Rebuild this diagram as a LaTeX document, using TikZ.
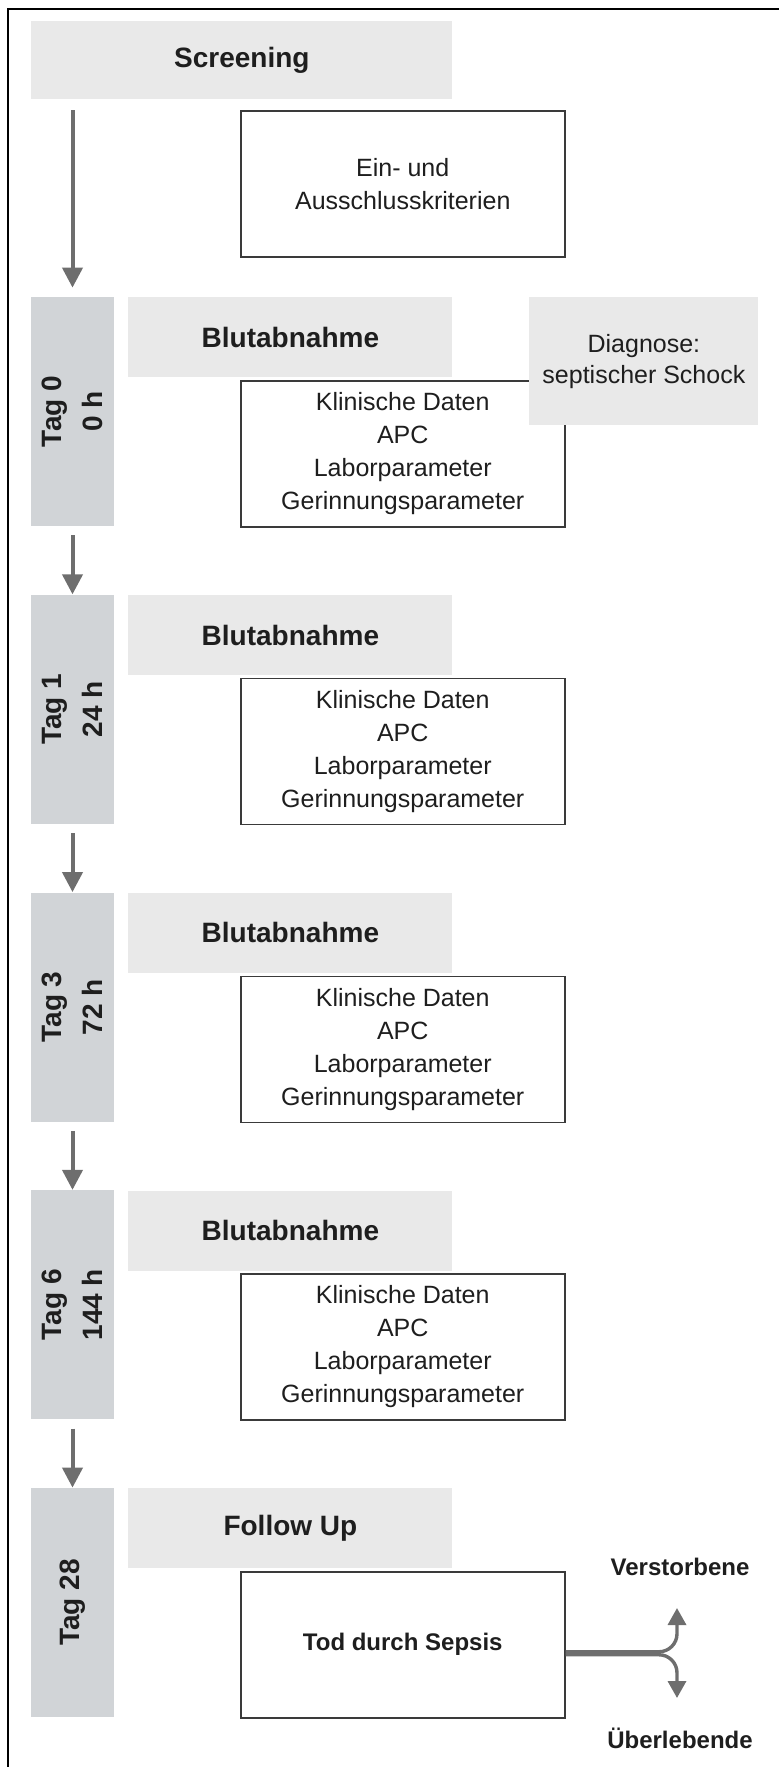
\documentclass[tikz,border=0pt]{standalone}
\usepackage{fontspec}
\setmainfont{Liberation Sans}
\usepackage{xcolor}
\usetikzlibrary{arrows.meta}
\definecolor{headgray}{HTML}{E9E9E9}
\definecolor{taggray}{HTML}{D1D4D7}
\definecolor{arrowgray}{HTML}{6E6E6E}
\definecolor{boxline}{HTML}{3A3A3A}
\definecolor{textgray}{HTML}{1E1E1E}

\begin{document}
\begin{tikzpicture}[x=0.5pt,y=-0.5pt,
  head/.style={fill=headgray,inner sep=0pt,anchor=north west,text=textgray,
    font=\fontsize{14}{17}\selectfont\bfseries},
  tagbox/.style={fill=taggray,inner sep=0pt,rotate=90,minimum width=114.5pt,
    minimum height=41.5pt,align=center,text=textgray,
    font=\fontsize{14}{20.5}\selectfont\bfseries},
  databox/.style={draw=boxline,line width=0.75pt,fill=white,inner sep=0pt,
    anchor=north west,minimum width=162pt,minimum height=73pt,align=center,
    text=textgray,font=\fontsize{12.5}{16.5}\selectfont},
  flow/.style={draw=arrowgray,line width=2pt,-{Triangle[length=10pt,width=10pt]}},
  fork/.style={draw=arrowgray,line width=1.7pt,rounded corners=9pt,
    -{Triangle[length=8.5pt,width=9pt]}}]
  \useasboundingbox (0,0) rectangle (779,1767);
  % outer frame (top and left edge)
  \draw[line width=1.1pt] (8,1767) -- (8,9) -- (779,9);

  % Screening
  \node[head,minimum width=210.5pt,minimum height=39pt] (screening) at (31,21) {Screening};
  \node[databox] (kriterien) at (240,110) {Ein- und\\Ausschlusskriterien};

  % Tag 0
  \node[tagbox] (tag0) at (72.5,411.5) {Tag 0\\0 h};
  \node[head,minimum width=162pt,minimum height=40pt] (blut0) at (128,297) {Blutabnahme};
  \node[databox] (daten0) at (240,380) {Klinische Daten\\APC\\Laborparameter\\Gerinnungsparameter};
  \node[fill=headgray,inner sep=0pt,anchor=north west,minimum width=114.5pt,
    minimum height=64pt,align=center,text=textgray,
    font=\fontsize{12.5}{15.5}\selectfont] (diagnose) at (529,297) {Diagnose:\\septischer Schock};

  % Tag 1
  \node[tagbox] (tag1) at (72.5,709.25) {Tag 1\\24 h};
  \node[head,minimum width=162pt,minimum height=40pt] (blut1) at (128,594.75) {Blutabnahme};
  \node[databox] (daten1) at (240,677.75) {Klinische Daten\\APC\\Laborparameter\\Gerinnungsparameter};

  % Tag 3
  \node[tagbox] (tag3) at (72.5,1007) {Tag 3\\72 h};
  \node[head,minimum width=162pt,minimum height=40pt] (blut3) at (128,892.5) {Blutabnahme};
  \node[databox] (daten3) at (240,975.5) {Klinische Daten\\APC\\Laborparameter\\Gerinnungsparameter};

  % Tag 6
  \node[tagbox] (tag6) at (72.5,1304.75) {Tag 6\\144 h};
  \node[head,minimum width=162pt,minimum height=40pt] (blut6) at (128,1190.25) {Blutabnahme};
  \node[databox] (daten6) at (240,1273.25) {Klinische Daten\\APC\\Laborparameter\\Gerinnungsparameter};

  % Tag 28
  \node[tagbox] (tag28) at (72.5,1602.5) {Tag 28};
  \node[head,minimum width=162pt,minimum height=40pt] (follow) at (128,1488) {Follow Up};
  \node[databox,font=\fontsize{12}{14}\selectfont\bfseries] (tod) at (240,1571) {Tod durch Sepsis};
  \node[text=textgray,font=\fontsize{12}{14}\selectfont\bfseries] (verst) at (680,1567) {Verstorbene};
  \node[text=textgray,font=\fontsize{12}{14}\selectfont\bfseries] (ueber) at (680,1738) {Überlebende};

  % time line
  \coordinate (start) at (72.5,110);
  \draw[flow,shorten >=4.5pt] (start) -- (tag0);
  \draw[flow,shorten <=4.5pt] (tag0) -- (tag1);
  \draw[flow,shorten <=4.5pt] (tag1) -- (tag3);
  \draw[flow,shorten <=4.5pt] (tag3) -- (tag6);
  \draw[flow,shorten <=4.5pt] (tag6) -- (tag28);

  % outcome
  \coordinate (verstTip) at (677,1608);
  \coordinate (ueberTip) at (677,1698);
  \draw[fork] ([yshift=-3.5pt]tod.east) -| (verstTip);
  \draw[fork] ([yshift=-5pt]tod.east) -| (ueberTip);
\end{tikzpicture}
\end{document}
